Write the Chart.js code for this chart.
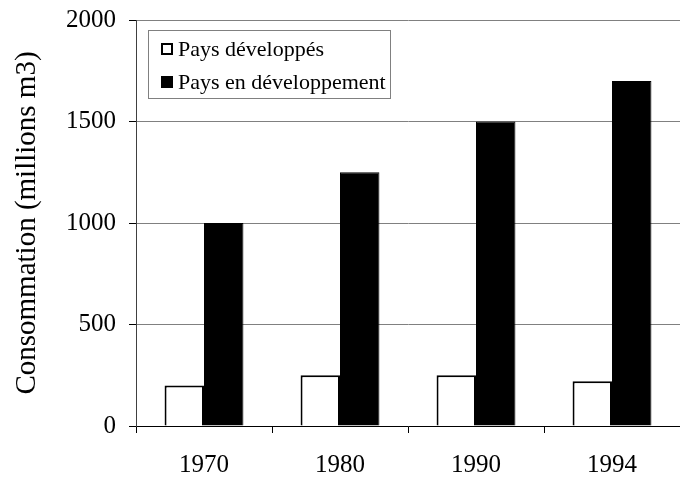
<!DOCTYPE html>
<html>
<head>
<meta charset="utf-8">
<script src="https://cdn.jsdelivr.net/npm/chart.js@4.4.1/dist/chart.umd.min.js"></script>
<style>
html,body{margin:0;padding:0;background:#fff;overflow:hidden;}
#wrap{width:680px;height:485px;position:relative;overflow:hidden;}
#c{position:absolute;left:0;top:-8px;}
</style>
</head>
<body>
<div id="wrap"><canvas id="c" width="680" height="493"></canvas></div>
<script>
const categories = ['1970', '1980', '1990', '1994'];
const paysDeveloppes = [200, 250, 250, 220];
const paysEnDeveloppement = [1000, 1250, 1500, 1700];
const seriesNames = ['Pays développés', 'Pays en développement'];
const yTicks = [0, 500, 1000, 1500, 2000];
const yTitle = 'Consommation (millions m3)';

const FONT = '"Liberation Serif", "Times New Roman", serif';
const SHIFT = 8;

const legendPlugin = {
  id: 'boxLegend',
  afterDraw(chart) {
    const ctx = chart.ctx;
    const x = 148, y = 30 + SHIFT, w = 242, h = 68;
    ctx.save();
    ctx.fillStyle = '#fff';
    ctx.fillRect(x, y, w, h);
    ctx.strokeStyle = '#808080';
    ctx.lineWidth = 1;
    ctx.strokeRect(x + 0.5, y + 0.5, w, h);
    ctx.font = '22px ' + FONT;
    ctx.textBaseline = 'middle';
    chart.data.datasets.forEach((ds, i) => {
      const cy = y + 19 + i * 33;
      ctx.fillStyle = ds.backgroundColor;
      ctx.fillRect(161, cy - 6, 12, 12);
      ctx.strokeStyle = '#000';
      ctx.lineWidth = 2;
      ctx.strokeRect(162, cy - 5, 10, 10);
      ctx.fillStyle = '#000';
      ctx.fillText(ds.label, 178, cy + 1);
    });
    ctx.restore();
  }
};

new Chart(document.getElementById('c'), {
  type: 'bar',
  data: {
    labels: categories,
    datasets: [
      { label: seriesNames[0], data: paysDeveloppes, backgroundColor: '#ffffff', borderColor: '#000000', borderWidth: 2 },
      { label: seriesNames[1], data: paysEnDeveloppement, backgroundColor: '#000000', borderColor: '#000000', borderWidth: 1 }
    ]
  },
  options: {
    responsive: false,
    animation: false,
    events: [],
    layout: { padding: { top: 0, right: 0, left: 0, bottom: 0 } },
    datasets: { bar: { categoryPercentage: 0.58, barPercentage: 1.0 } },
    plugins: { legend: { display: false }, tooltip: { enabled: false } },
    scales: {
      x: {
        grid: { offset: true, drawOnChartArea: false, drawTicks: true, tickLength: 7, color: '#000', lineWidth: 1 },
        border: { color: '#000', width: 1 },
        ticks: { color: '#000', font: { family: FONT, size: 25 }, padding: 17 },
        afterFit(s) { s.height = 59; }
      },
      y: {
        min: 0, max: 2000,
        afterBuildTicks(s) { s.ticks = yTicks.map(v => ({ value: v })); },
        grid: { color: '#808080', lineWidth: 1, drawTicks: true, tickLength: 7, tickColor: '#000' },
        border: { color: '#404040', width: 1 },
        ticks: { color: '#000', font: { family: FONT, size: 25 }, padding: 13, callback: v => String(v) },
        title: { display: true, text: yTitle, color: '#000', font: { family: FONT, size: 29 }, padding: { top: 10, bottom: 0 } },
        afterFit(s) { s.width = 136; }
      }
    }
  },
  plugins: [legendPlugin]
});
</script>
</body>
</html>
